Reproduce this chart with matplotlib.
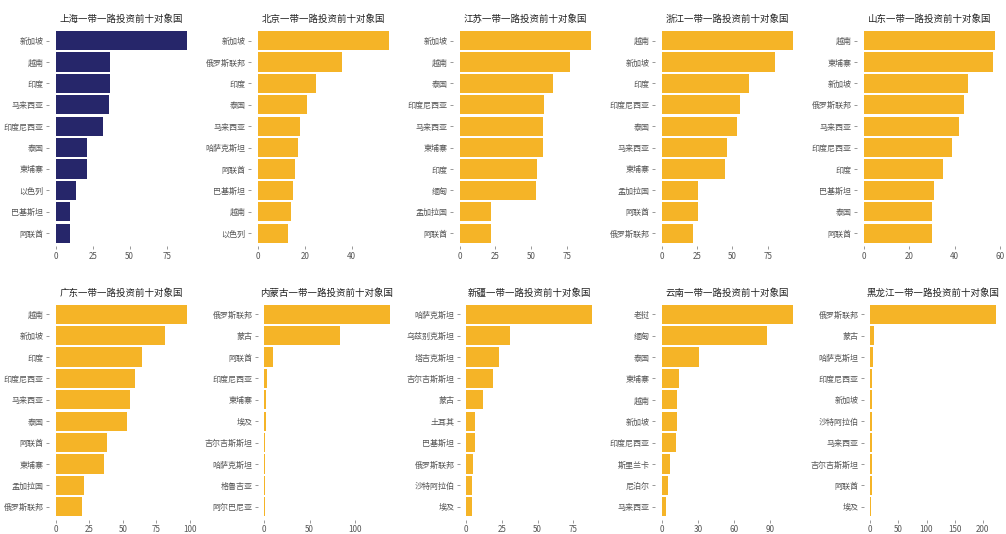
import matplotlib
matplotlib.use("Agg")
import matplotlib.pyplot as plt
from matplotlib.ticker import MultipleLocator

plt.rcParams['font.family'] = ['Noto Sans CJK SC', 'DejaVu Sans']

# ---- data ----
titles = ["上海一带一路投资前十对象国", "北京一带一路投资前十对象国", "江苏一带一路投资前十对象国",
          "浙江一带一路投资前十对象国", "山东一带一路投资前十对象国", "广东一带一路投资前十对象国",
          "内蒙古一带一路投资前十对象国", "新疆一带一路投资前十对象国", "云南一带一路投资前十对象国",
          "黑龙江一带一路投资前十对象国"]

shanghai_c = ["新加坡", "越南", "印度", "马来西亚", "印度尼西亚", "泰国", "柬埔寨", "以色列", "巴基斯坦", "阿联酋"]
shanghai_v = [89, 37, 37, 36, 32, 21, 21, 14, 10, 10]

beijing_c = ["新加坡", "俄罗斯联邦", "印度", "泰国", "马来西亚", "哈萨克斯坦", "阿联酋", "巴基斯坦", "越南", "以色列"]
beijing_v = [56, 36, 25, 21, 18, 17, 16, 15, 14, 13]

jiangsu_c = ["新加坡", "越南", "泰国", "印度尼西亚", "马来西亚", "柬埔寨", "印度", "缅甸", "孟加拉国", "阿联酋"]
jiangsu_v = [92, 77, 65, 59, 58, 58, 54, 53, 22, 22]

zhejiang_c = ["越南", "新加坡", "印度", "印度尼西亚", "泰国", "马来西亚", "柬埔寨", "孟加拉国", "阿联酋", "俄罗斯联邦"]
zhejiang_v = [93, 80, 62, 55, 53, 46, 45, 26, 26, 22]

shandong_c = ["越南", "柬埔寨", "新加坡", "俄罗斯联邦", "马来西亚", "印度尼西亚", "印度", "巴基斯坦", "泰国", "阿联酋"]
shandong_v = [58, 57, 46, 44, 42, 39, 35, 31, 30, 30]

guangdong_c = ["越南", "新加坡", "印度", "印度尼西亚", "马来西亚", "泰国", "阿联酋", "柬埔寨", "孟加拉国", "俄罗斯联邦"]
guangdong_v = [98, 81, 64, 59, 55, 53, 38, 36, 21, 20]

neimenggu_c = ["俄罗斯联邦", "蒙古", "阿联酋", "印度尼西亚", "柬埔寨", "埃及", "吉尔吉斯斯坦", "哈萨克斯坦", "格鲁吉亚", "阿尔巴尼亚"]
neimenggu_v = [138, 83, 10, 3, 2, 2, 1, 1, 1, 1]

xinjiang_c = ["哈萨克斯坦", "乌兹别克斯坦", "塔吉克斯坦", "吉尔吉斯斯坦", "蒙古", "土耳其", "巴基斯坦", "俄罗斯联邦", "沙特阿拉伯", "埃及"]
xinjiang_v = [88, 31, 23, 19, 12, 6, 6, 5, 4, 4]

yunnan_c = ["老挝", "缅甸", "泰国", "柬埔寨", "越南", "新加坡", "印度尼西亚", "斯里兰卡", "尼泊尔", "马来西亚"]
yunnan_v = [109, 87, 31, 14, 13, 13, 12, 7, 5, 4]

heilongjiang_c = ["俄罗斯联邦", "蒙古", "哈萨克斯坦", "印度尼西亚", "新加坡", "沙特阿拉伯", "马来西亚", "吉尔吉斯斯坦", "阿联酋", "埃及"]
heilongjiang_v = [223, 7, 4, 3, 3, 3, 3, 3, 3, 2]

tick_steps = [25, 20, 25, 25, 20, 25, 50, 25, 30, 50]

# ---- layout (pixels) ----
W, H = 1006, 534
lefts_top = [49, 251, 453, 655, 857]
rights_top = [194, 396, 598, 800, 1002]
lefts_bot = [49, 258, 460, 655, 864]
rights_bot = [194, 396, 598, 800, 1002]
row_y = [(27.8, 246.0), (301.5, 519.6)]

NAVY = "#26266A"
ORANGE = "#F5B427"

all_c = [shanghai_c, beijing_c, jiangsu_c, zhejiang_c, shandong_c,
         guangdong_c, neimenggu_c, xinjiang_c, yunnan_c, heilongjiang_c]
all_v = [shanghai_v, beijing_v, jiangsu_v, zhejiang_v, shandong_v,
         guangdong_v, neimenggu_v, xinjiang_v, yunnan_v, heilongjiang_v]

fig = plt.figure(figsize=(W / 100, H / 100), dpi=100)
fig.patch.set_facecolor("white")

for i in range(10):
    r = i // 5
    c = i % 5
    if r == 0:
        l, rr = lefts_top[c], rights_top[c]
    else:
        l, rr = lefts_bot[c], rights_bot[c]
    top, bot = row_y[r]
    ax = fig.add_axes([l / W, 1 - bot / H, (rr - l) / W, (bot - top) / H])
    cats = all_c[i]
    vals = all_v[i]
    n = len(cats)
    ypos = list(range(n))[::-1]
    color = NAVY if i == 0 else ORANGE
    ax.barh(ypos, vals, height=0.9, color=color, linewidth=0)
    vmax = max(vals)
    ax.set_xlim(-0.05 * vmax, 1.05 * vmax)
    ax.set_ylim(-0.6, n - 1 + 0.6)
    ax.set_yticks(ypos)
    ax.set_yticklabels(cats)
    ax.xaxis.set_major_locator(MultipleLocator(tick_steps[i]))
    for s in ax.spines.values():
        s.set_visible(False)
    ax.tick_params(axis="both", length=2, width=0.6, color="#888888",
                   labelsize=5.8, labelcolor="#555555", pad=2)
    ax.set_title(titles[i], fontsize=6.8, color="#222222", pad=4)
    ax.set_facecolor("white")

fig.savefig("out.png", dpi=100, facecolor="white")
